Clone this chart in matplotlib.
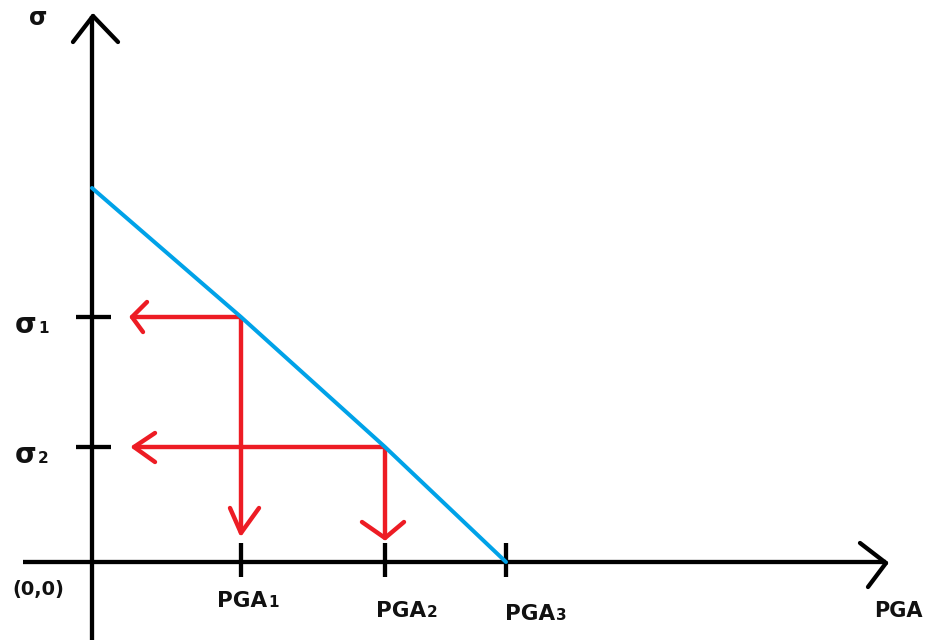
import matplotlib
matplotlib.use("Agg")
import matplotlib.pyplot as plt

# Schematic: stress sigma falls as peak ground acceleration rises
pga_names = ["PGA", "PGA", "PGA"]
pga_subs = ["1", "2", "3"]
pga_values = [149, 293, 414]          # PGA1, PGA2, PGA3 along the x axis
sigma_subs = ["1", "2"]
sigma_values = [245, 115]             # sigma1, sigma2 along the y axis
curve_pga = [0, 149, 293, 414]        # sigma-PGA relation
curve_sigma = [374, 245, 115, 0]

BLACK = "#000000"
RED = "#ED1C24"
BLUE = "#00A2E8"
TXT = "#111111"

fig = plt.figure(figsize=(9.3, 6.4), dpi=100)
ax = fig.add_axes([0, 0, 1, 1])
ax.set_xlim(-92, 838)
ax.set_ylim(-78, 562)
ax.axis("off")

PX = 0.72  # points per pixel at 100 dpi


def chevron(tip, arm1, arm2, color, lw):
    """Open arrow head: two strokes meeting at the tip."""
    for dx, dy in (arm1, arm2):
        ax.plot([tip[0] + dx, tip[0]], [tip[1] + dy, tip[1]], color=color,
                lw=lw, solid_capstyle="round", solid_joinstyle="round", zorder=4)


# axes
axis_lw = 4.3 * PX
ax.plot([0, 0], [-78, 546], color=BLACK, lw=axis_lw, solid_capstyle="butt", zorder=3)
ax.plot([-69, 794], [0, 0], color=BLACK, lw=axis_lw, solid_capstyle="butt", zorder=3)
chevron((1, 546), (-20, -26), (25, -26), BLACK, axis_lw)
chevron((794, -1), (-26, 20), (-18, -24), BLACK, axis_lw)

# tick marks
for v in pga_values:
    ax.plot([v, v], [19, -15], color=BLACK, lw=axis_lw, solid_capstyle="butt", zorder=3)
for v in sigma_values:
    ax.plot([-16, 19], [v, v], color=BLACK, lw=axis_lw, solid_capstyle="butt", zorder=3)

# relation curve
ax.plot(curve_pga, curve_sigma, color=BLUE, lw=4.0 * PX, solid_capstyle="round", zorder=5)

# read-off arrows
red_lw = 4.4 * PX
h_tips = [40, 42]
h_arms = [((15, 15), (11, -15)), ((21, 14), (21, -15))]
for p, s, tipx, arms in zip(pga_values[:2], sigma_values, h_tips, h_arms):
    ax.plot([p, tipx], [s, s], color=RED, lw=red_lw, solid_capstyle="butt", zorder=4)
    chevron((tipx, s), arms[0], arms[1], RED, red_lw)

v_tips = [29, 24]
v_arms = [((-11, 25), (18, 25)), ((-23, 16), (19, 16))]
for p, s, tipy, arms in zip(pga_values[:2], sigma_values, v_tips, v_arms):
    ax.plot([p, p], [s, tipy], color=RED, lw=red_lw, solid_capstyle="butt", zorder=4)
    chevron((p, tipy), arms[0], arms[1], RED, red_lw)

# labels
bold = dict(family="DejaVu Sans", weight="bold", color=TXT)
label_split = [175, 334, 463]
label_base = [-45, -55, -58]
for name, sub, x, y in zip(pga_names, pga_subs, label_split, label_base):
    ax.text(x, y, name, ha="right", va="baseline", fontsize=15.5, **bold)
    ax.text(x + 1, y, sub, ha="left", va="baseline", fontsize=11, **bold)

for sub, v in zip(sigma_subs, sigma_values):
    ax.text(-55, v - 16, "σ", ha="right", va="baseline", fontsize=20, **bold)
    ax.text(-54, v - 16, sub, ha="left", va="baseline", fontsize=11, **bold)

ax.text(-54, 537, "σ", ha="center", va="baseline", fontsize=17, **bold)
ax.text(-54, -28, "(0,0)", ha="center", va="center", fontsize=14, **bold)
ax.text(806, -55, "PGA", ha="center", va="baseline", fontsize=15, **bold)

fig.savefig("out.png", dpi=100)
